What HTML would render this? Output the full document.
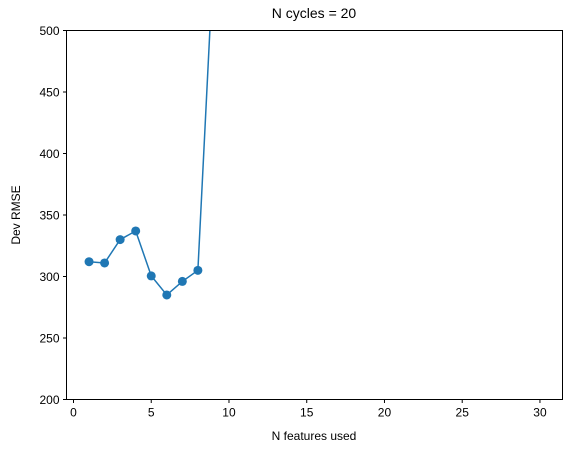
<!DOCTYPE html>
<html><head><meta charset="utf-8"><style>
body{margin:0;background:#fff;font-family:"Liberation Sans",sans-serif;}
svg text{font-family:"Liberation Sans",sans-serif;fill:#000;}
</style></head><body>
<svg id="chart" width="575" height="453" style="position:absolute;left:0;top:0">
<defs><clipPath id="clip"><rect x="66.5" y="30.5" width="496" height="369"/></clipPath></defs>
<g id="plot" clip-path="url(#clip)"></g>
<g id="axes"></g>
<text x="314" y="18" text-anchor="middle" font-size="14">N cycles = 20</text>
<text x="314" y="440" text-anchor="middle" font-size="12">N features used</text>
<text x="20" y="215" text-anchor="middle" font-size="12" transform="rotate(-90 20 215)">Dev RMSE</text>
</svg>
<script>
const nFeatures=[1,2,3,4,5,6,7,8,9,10,11,12,13,14,15,16,17,18,19,20,21,22,23,24,25,26,27,28,29,30];
const rmse=[312,311,330,337,300.5,285,296,305,558,3000,3000,3000,3000,3000,3000,3000,3000,3000,3000,3000,3000,3000,3000,3000,3000,3000,3000,3000,3000,3000];
const xTicks=[0,5,10,15,20,25,30];
const yTicks=[200,250,300,350,400,450,500];
const L=66.5,R=562.5,T=30.5,B=399.5;
const xMin=-0.45,xMax=31.45,yMin=200,yMax=500;
const X=v=>L+(v-xMin)/(xMax-xMin)*(R-L);
const Y=v=>B-(v-yMin)/(yMax-yMin)*(B-T);
const NS='http://www.w3.org/2000/svg';
function mk(t,a,p){const e=document.createElementNS(NS,t);for(const k in a)e.setAttribute(k,a[k]);p.appendChild(e);return e;}
const plot=document.getElementById('plot'),axes=document.getElementById('axes');
const line=mk('polyline',{points:nFeatures.map((n,i)=>X(n)+','+Y(rmse[i])).join(' '),fill:'none',stroke:'#1f77b4','stroke-width':1.5},plot);


nFeatures.forEach((n,i)=>{const c=mk('circle',{cx:X(n),cy:Y(rmse[i]),r:4.5,fill:'#1f77b4'},plot);

});
const frame=mk('rect',{x:L,y:T,width:R-L,height:B-T,fill:'none',stroke:'#000','stroke-width':1},axes);


xTicks.forEach(t=>{mk('line',{x1:X(t),x2:X(t),y1:B,y2:B+3.5,stroke:'#000'},axes);
const tx=mk('text',{x:X(t),y:B+17,'text-anchor':'middle','font-size':12},axes);tx.textContent=t;

});
yTicks.forEach(t=>{mk('line',{x1:L-3.5,x2:L,y1:Y(t),y2:Y(t),stroke:'#000'},axes);
const tx=mk('text',{x:L-7,y:Y(t)+4.5,'text-anchor':'end','font-size':12},axes);tx.textContent=t;

});
</script>
</body></html>
